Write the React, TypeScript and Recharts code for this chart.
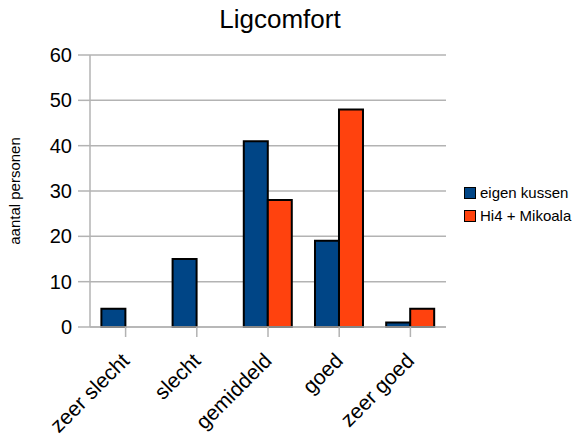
import React from 'react';
import {
  BarChart, Bar, XAxis, YAxis, CartesianGrid,
} from 'recharts';

const categories: string[] = ['zeer slecht', 'slecht', 'gemiddeld', 'goed', 'zeer goed'];
const eigenKussen: number[] = [4, 15, 41, 19, 1];
const hi4Mikoala: number[] = [0, 0, 28, 48, 4];
const yTicks: number[] = [0, 10, 20, 30, 40, 50, 60];

const seriesNames = ['eigen kussen', 'Hi4 + Mikoala'];
const seriesColors = ['#004586', '#ff420e'];

const data = categories.map((name, i) => ({
  name,
  eigen: eigenKussen[i],
  hi4: hi4Mikoala[i],
}));

const font = '"Liberation Sans", Arial, sans-serif';
const gray = '#b3b3b3';

// category labels, slanted 45 degrees and ending just under the tick
const CategoryTick = (props: any) => {
  const { x, y, payload } = props;
  const ax = x + 5;
  const ay = y + 23;
  return (
    <text
      x={ax}
      y={ay}
      textAnchor="end"
      transform={`rotate(-45 ${ax} ${ay})`}
      fontSize={21}
      fontFamily={font}
      fill="#000"
    >
      {payload.value}
    </text>
  );
};

const AxisTitle = () => {
  const cx = 14;
  const cy = 191;
  return (
    <text
      x={cx}
      y={cy}
      textAnchor="middle"
      dominantBaseline="central"
      transform={`rotate(-90 ${cx} ${cy})`}
      fontSize={15}
      fontFamily={font}
      fill="#000"
    >
      aantal personen
    </text>
  );
};

export default (): React.ReactElement => {
  return (
    <div style={{ position: 'absolute', left: 0, top: 0, width: 577, height: 441, background: '#fff' }}>
      <div style={{
        position: 'absolute', left: 0, top: 4, width: 560, textAlign: 'center',
        fontFamily: font, fontSize: 26, color: '#000',
      }}>
        Ligcomfort
      </div>

      <BarChart
        width={577}
        height={441}
        data={data}
        margin={{ top: 55, right: 131, bottom: 0, left: 0 }}
        barGap={0}
        barCategoryGap="16%"
      >
        <CartesianGrid vertical={false} stroke={gray} strokeWidth={1.5} />

        <XAxis
          dataKey="name"
          height={114}
          interval={0}
          axisLine={{ stroke: gray, strokeWidth: 1.5 }}
          tickLine={{ stroke: gray, strokeWidth: 1.5 }}
          tickSize={10}
          tick={<CategoryTick />}
        />

        <YAxis
          width={90}
          domain={[0, 60]}
          ticks={yTicks}
          interval={0}
          axisLine={{ stroke: gray, strokeWidth: 1.5 }}
          tickLine={{ stroke: gray, strokeWidth: 1.5 }}
          tickSize={12}
          tickMargin={6}
          tick={{ fontSize: 20, fontFamily: font, fill: '#000' }}
          label={<AxisTitle />}
        />

        {/* right-hand frame of the plot area */}
        <YAxis
          yAxisId="right"
          orientation="right"
          width={0}
          domain={[0, 60]}
          tick={false}
          tickLine={false}
          axisLine={{ stroke: gray, strokeWidth: 1.5 }}
        />

        <Bar dataKey="eigen" name={seriesNames[0]} fill={seriesColors[0]} stroke="#000" strokeWidth={2} isAnimationActive={false} />
        <Bar dataKey="hi4" name={seriesNames[1]} fill={seriesColors[1]} stroke="#000" strokeWidth={2} isAnimationActive={false} />
      </BarChart>

      <div style={{ position: 'absolute', left: 464, top: 181, fontFamily: font, fontSize: 15, color: '#000' }}>
        {seriesNames.map((n, i) => (
          <div key={n} style={{ display: 'flex', alignItems: 'center', height: 23 }}>
            <span style={{
              display: 'inline-block', width: 10, height: 10, background: seriesColors[i],
              border: '1.5px solid #000', marginRight: 4,
            }} />
            {n}
          </div>
        ))}
      </div>
    </div>
  );
}
